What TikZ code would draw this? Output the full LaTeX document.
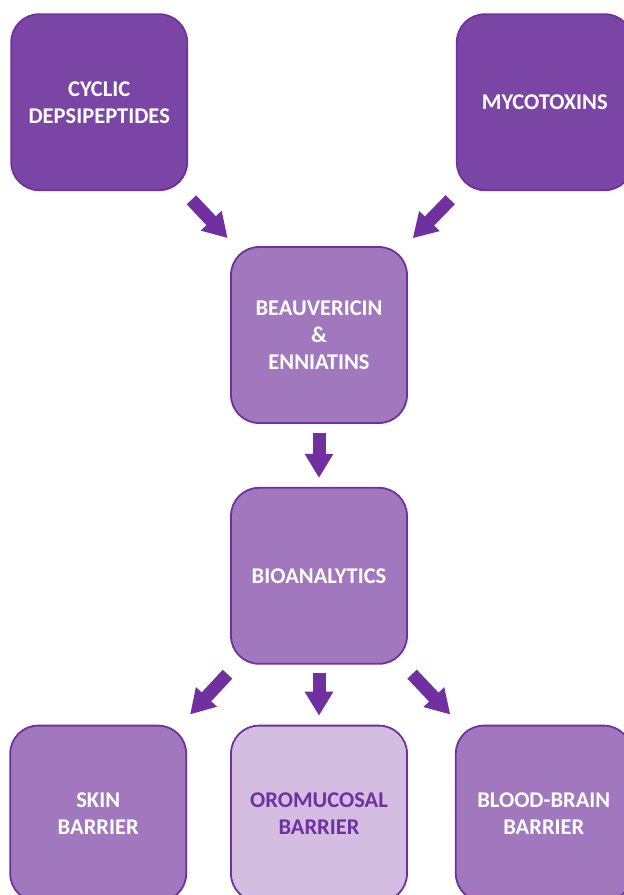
\documentclass[tikz,border=0pt]{standalone}
\usepackage{fontspec}
\setmainfont{Carlito}
\usepackage{tikz}
\usetikzlibrary{arrows.meta, positioning}
\definecolor{toxpurple}{RGB}{112,48,160}
\definecolor{darkfill}{RGB}{123,69,166}
\definecolor{midfill}{RGB}{161,120,190}
\definecolor{lightfill}{RGB}{211,190,226}

\begin{document}
\begin{tikzpicture}[
    x=1pt, y=-1pt,
    box/.style={rectangle, draw=toxpurple, minimum width=176pt, minimum height=176pt, align=center, font=\fontsize{22.5}{27}\selectfont\bfseries, text=white, rounded corners=28pt, line width=1.8pt},
    dbox/.style={box, fill=darkfill},
    mbox/.style={box, fill=midfill},
    lbox/.style={box, fill=lightfill, text=toxpurple},
    arrow/.style={-{Triangle[width=27pt,length=24pt]}, line width=13pt, toxpurple},
]
    \useasboundingbox[fill=white] (0,0) rectangle (624,895);

    \node[mbox] (beau) at (319,335) {BEAUVERICIN\\\&\\ENNIATINS};
    \node[dbox, above left=55pt and 42pt of beau] (cyclic) {CYCLIC\\DEPSIPEPTIDES};
    \node[dbox, above right=55pt and 48pt of beau] (myco) {MYCOTOXINS};
    \node[mbox, below=63pt of beau] (bioana) {BIOANALYTICS};
    \node[lbox, below=60pt of bioana] (oromuc) {OROMUCOSAL\\BARRIER};
    \node[mbox, left=43pt of oromuc] (skin) {SKIN\\BARRIER};
    \node[mbox, right=47pt of oromuc] (bbb) {BLOOD-BRAIN\\BARRIER};

    \draw[arrow, shorten <=12pt, shorten >=11pt] (cyclic) -- (beau);
    \draw[arrow, shorten <=12pt, shorten >=11pt] (myco) -- (beau);
    \draw[arrow, shorten <=9pt, shorten >=9pt] (beau) -- (bioana);
    \draw[arrow, shorten <=13pt, shorten >=14pt] (bioana) -- (skin);
    \draw[arrow, shorten <=8pt, shorten >=9pt] (bioana) -- (oromuc);
    \draw[arrow, shorten <=13pt, shorten >=14pt] (bioana) -- (bbb);
\end{tikzpicture}
\end{document}
